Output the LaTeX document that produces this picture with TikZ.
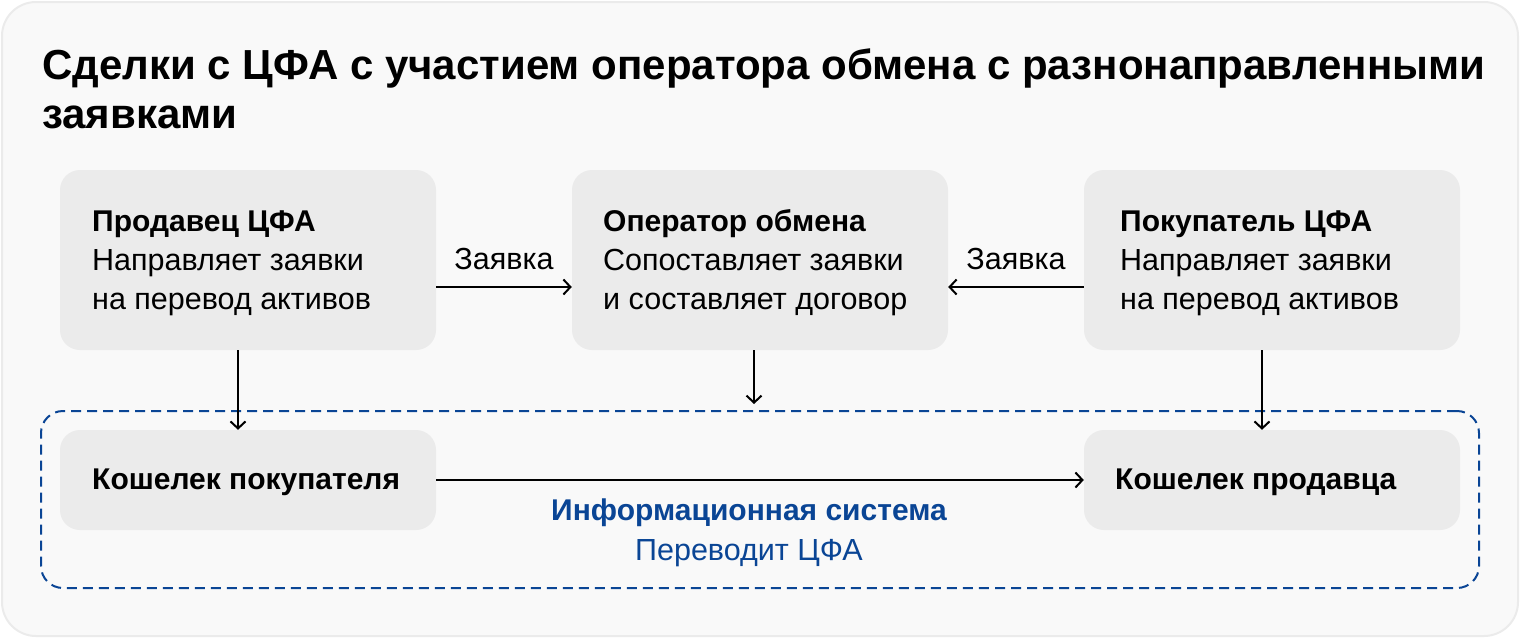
\documentclass[tikz,border=0pt]{standalone}
\usepackage{fontspec}
\setmainfont{Liberation Sans}
\usetikzlibrary{arrows.meta}
\definecolor{panelbg}{HTML}{F9F9F9}
\definecolor{panelline}{HTML}{EBEBEB}
\definecolor{boxbg}{HTML}{EBEBEB}
\definecolor{isblue}{HTML}{0A4595}

\begin{document}
\begin{tikzpicture}[x=1pt, y=-1pt,
  box/.style={fill=boxbg, rounded corners=20pt, minimum width=376pt, inner sep=0pt},
  bigbox/.style={box, minimum height=180pt},
  smallbox/.style={box, minimum height=100pt},
  head/.style={font=\fontsize{30}{39}\bfseries\selectfont, anchor=base west, inner sep=0pt},
  body/.style={font=\fontsize{30.5}{39}\selectfont, anchor=base west, inner sep=0pt},
  link/.style={line width=2pt, -{Straight Barb[length=7pt, width=15pt]}}
]
\useasboundingbox (0,0) rectangle (1520,638);
% Background panel and title
\draw[panelline, fill=panelbg, line width=2pt, rounded corners=34pt] (2,2) rectangle (1518,636);
\node[head, font=\fontsize{42}{48}\bfseries\selectfont] (title1) at (42,79) {Сделки с ЦФА с участием оператора обмена с разнонаправленными};
\node[head, font=\fontsize{42}{48}\bfseries\selectfont] (title2) at (42,128) {заявками};

% Information system frame
\node[draw=isblue, line width=2pt, dash pattern=on 10pt off 6pt, rounded corners=22pt,
  minimum width=1438pt, minimum height=177pt, inner sep=0pt] (sys) at (760,499.5) {};
\node[head, anchor=base, text=isblue] (systitle) at (749,520) {Информационная система};
\node[body, anchor=base, text=isblue] (systext) at (749,560) {Переводит ЦФА};

% Participants
\node[bigbox] (sell) at (248,260) {};
\node[bigbox] (oper) at (760,260) {};
\node[bigbox] (buy) at (1272,260) {};
\node[smallbox] (wbuy) at (248,480) {};
\node[smallbox] (wsell) at (1272,480) {};

\node[head] (selltitle) at (92,231) {Продавец ЦФА};
\node[body] (selltext1) at (92,270) {Направляет заявки};
\node[body] (selltext2) at (92,309) {на перевод активов};
\node[head] (opertitle) at (603,231) {Оператор обмена};
\node[body] (opertext1) at (603,270) {Сопоставляет заявки};
\node[body] (opertext2) at (603,309) {и составляет договор};
\node[head] (buytitle) at (1120,231) {Покупатель ЦФА};
\node[body] (buytext1) at (1120,270) {Направляет заявки};
\node[body] (buytext2) at (1120,309) {на перевод активов};
\node[head] (wbuytitle) at (92,489) {Кошелек покупателя};
\node[head] (wselltitle) at (1115,489) {Кошелек продавца};

% Connectors
\coordinate (sysin) at (754,404);
\draw[link] ([yshift=-27pt]sell.east) -- ([yshift=-27pt]oper.west)
  node[body, midway, anchor=base, yshift=18pt] (req1) {Заявка};
\draw[link] ([yshift=-27pt]buy.west) -- ([yshift=-27pt]oper.east)
  node[body, midway, anchor=base, yshift=18pt] (req2) {Заявка};
\draw[link] ([xshift=-10pt]sell.south) -- ([xshift=-10pt]wbuy.north);
\draw[link] ([xshift=-10pt]buy.south) -- ([xshift=-10pt]wsell.north);
\draw[link] (oper.south -| sysin) -- (sysin);
\draw[link] (wbuy.east) -- (wsell.west);
\end{tikzpicture}
\end{document}
